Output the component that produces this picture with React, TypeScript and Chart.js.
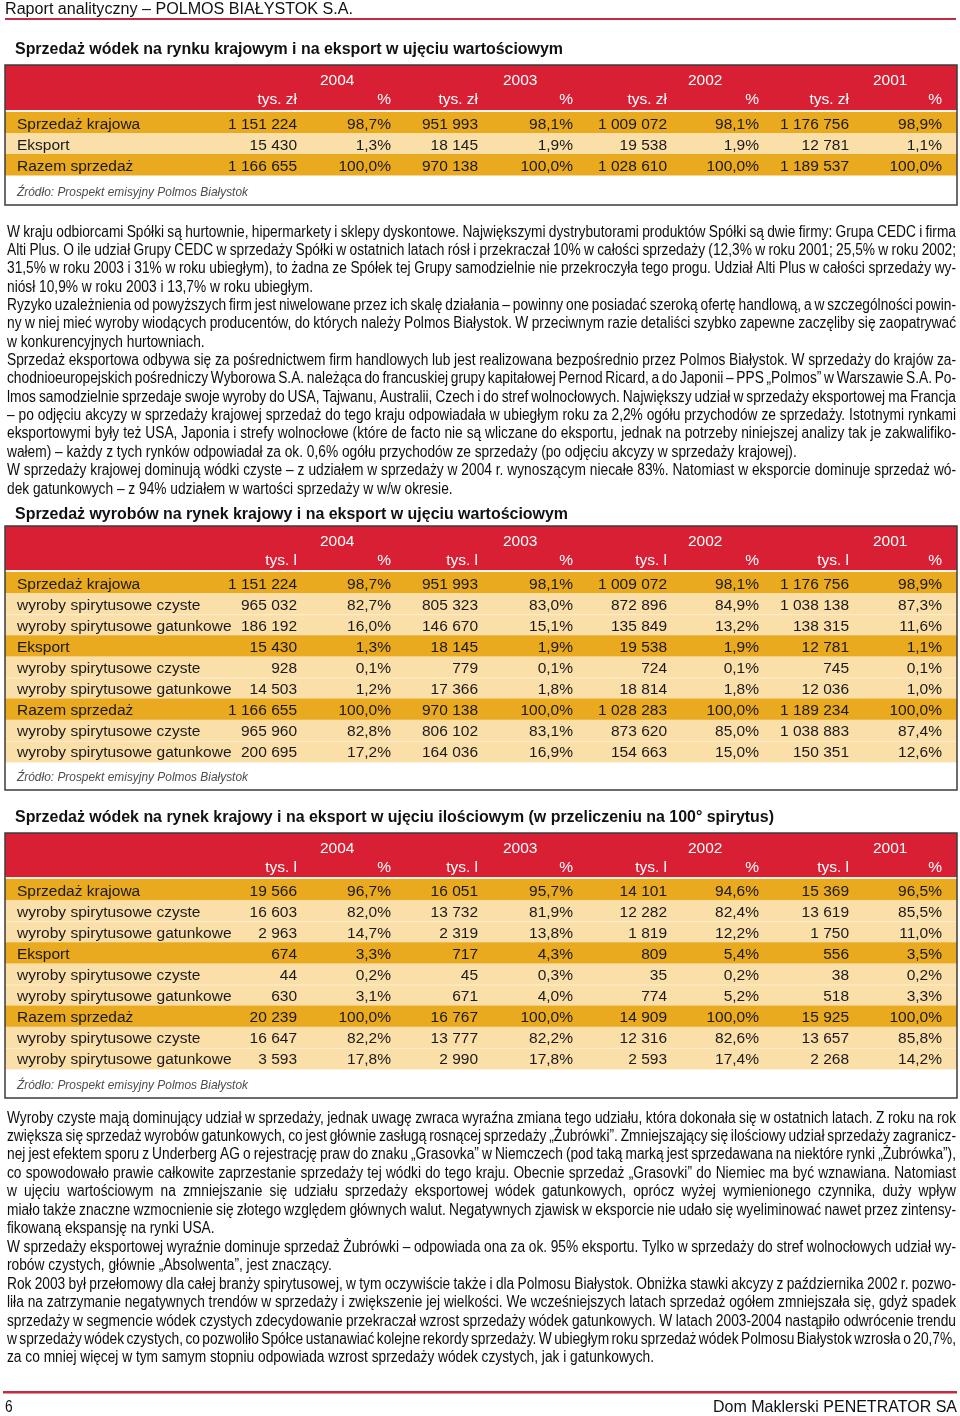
import React, { useEffect, useRef } from 'react';
import { Chart, registerables } from 'chart.js';

Chart.register(...registerables);

// ---------------- data ----------------
const pageHeader = 'Raport analityczny – POLMOS BIAŁYSTOK S.A.';
const footerLeft = '6';
const footerRight = 'Dom Maklerski PENETRATOR SA';
const sourceNote = 'Źródło: Prospekt emisyjny Polmos Białystok';

const years = ['2004', '2003', '2002', '2001'];

const title1 = 'Sprzedaż wódek na rynku krajowym i na eksport w ujęciu wartościowym';
const units1 = ['tys. zł', '%'];
const rows1 = ['Sprzedaż krajowa', 'Eksport', 'Razem sprzedaż'];
const dark1 = [true, false, true];
const amounts1 = [
  [1151224, 951993, 1009072, 1176756],
  [15430, 18145, 19538, 12781],
  [1166655, 970138, 1028610, 1189537],
];
const shares1 = [
  [98.7, 98.1, 98.1, 98.9],
  [1.3, 1.9, 1.9, 1.1],
  [100.0, 100.0, 100.0, 100.0],
];

const title2 = 'Sprzedaż wyrobów na rynek krajowy i na eksport w ujęciu wartościowym';
const units2 = ['tys. l', '%'];
const rows2 = [
  'Sprzedaż krajowa',
  'wyroby spirytusowe czyste',
  'wyroby spirytusowe gatunkowe',
  'Eksport',
  'wyroby spirytusowe czyste',
  'wyroby spirytusowe gatunkowe',
  'Razem sprzedaż',
  'wyroby spirytusowe czyste',
  'wyroby spirytusowe gatunkowe',
];
const dark2 = [true, false, false, true, false, false, true, false, false];
const amounts2 = [
  [1151224, 951993, 1009072, 1176756],
  [965032, 805323, 872896, 1038138],
  [186192, 146670, 135849, 138315],
  [15430, 18145, 19538, 12781],
  [928, 779, 724, 745],
  [14503, 17366, 18814, 12036],
  [1166655, 970138, 1028283, 1189234],
  [965960, 806102, 873620, 1038883],
  [200695, 164036, 154663, 150351],
];
const shares2 = [
  [98.7, 98.1, 98.1, 98.9],
  [82.7, 83.0, 84.9, 87.3],
  [16.0, 15.1, 13.2, 11.6],
  [1.3, 1.9, 1.9, 1.1],
  [0.1, 0.1, 0.1, 0.1],
  [1.2, 1.8, 1.8, 1.0],
  [100.0, 100.0, 100.0, 100.0],
  [82.8, 83.1, 85.0, 87.4],
  [17.2, 16.9, 15.0, 12.6],
];

const title3 = 'Sprzedaż wódek na rynek krajowy i na eksport w ujęciu ilościowym (w przeliczeniu na 100° spirytus)';
const units3 = ['tys. l', '%'];
const rows3 = rows2;
const dark3 = dark2;
const amounts3 = [
  [19566, 16051, 14101, 15369],
  [16603, 13732, 12282, 13619],
  [2963, 2319, 1819, 1750],
  [674, 717, 809, 556],
  [44, 45, 35, 38],
  [630, 671, 774, 518],
  [20239, 16767, 14909, 15925],
  [16647, 13777, 12316, 13657],
  [3593, 2990, 2593, 2268],
];
const shares3 = [
  [96.7, 95.7, 94.6, 96.5],
  [82.0, 81.9, 82.4, 85.5],
  [14.7, 13.8, 12.2, 11.0],
  [3.3, 4.3, 5.4, 3.5],
  [0.2, 0.3, 0.2, 0.2],
  [3.1, 4.0, 5.2, 3.3],
  [100.0, 100.0, 100.0, 100.0],
  [82.2, 82.2, 82.6, 85.8],
  [17.8, 17.8, 17.4, 14.2],
];

const bodyText1: string[][] = [
  [
    'W kraju odbiorcami Spółki są hurtownie, hipermarkety i sklepy dyskontowe. Największymi dystrybutorami produktów Spółki są dwie firmy: Grupa CEDC i firma',
    'Alti Plus. O ile udział Grupy CEDC w sprzedaży Spółki w ostatnich latach rósł i przekraczał 10% w całości sprzedaży (12,3% w roku 2001; 25,5% w roku 2002;',
    '31,5% w roku 2003 i 31% w roku ubiegłym), to żadna ze Spółek tej Grupy samodzielnie nie przekroczyła tego progu. Udział Alti Plus w całości sprzedaży wy-',
    'niósł 10,9% w roku 2003 i 13,7% w roku ubiegłym.',
  ],
  [
    'Ryzyko uzależnienia od powyższych firm jest niwelowane przez ich skalę działania – powinny one posiadać szeroką ofertę handlową, a w szczególności powin-',
    'ny w niej mieć wyroby wiodących producentów, do których należy Polmos Białystok. W przeciwnym razie detaliści szybko zapewne zaczęliby się zaopatrywać',
    'w konkurencyjnych hurtowniach.',
  ],
  [
    'Sprzedaż eksportowa odbywa się za pośrednictwem firm handlowych lub jest realizowana bezpośrednio przez Polmos Białystok. W sprzedaży do krajów za-',
    'chodnioeuropejskich pośredniczy Wyborowa S.A. należąca do francuskiej grupy kapitałowej Pernod Ricard, a do Japonii – PPS „Polmos” w Warszawie S.A. Po-',
    'lmos samodzielnie sprzedaje swoje wyroby do USA, Tajwanu, Australii, Czech i do stref wolnocłowych. Największy udział w sprzedaży eksportowej ma Francja',
    '– po odjęciu akcyzy w sprzedaży krajowej sprzedaż do tego kraju odpowiadała w ubiegłym roku za 2,2% ogółu przychodów ze sprzedaży. Istotnymi rynkami',
    'eksportowymi były też USA, Japonia i strefy wolnocłowe (które de facto nie są wliczane do eksportu, jednak na potrzeby niniejszej analizy tak je zakwalifiko-',
    'wałem) – każdy z tych rynków odpowiadał za ok. 0,6% ogółu przychodów ze sprzedaży (po odjęciu akcyzy w sprzedaży krajowej).',
  ],
  [
    'W sprzedaży krajowej dominują wódki czyste – z udziałem w sprzedaży w 2004 r. wynoszącym niecałe 83%. Natomiast w eksporcie dominuje sprzedaż wó-',
    'dek gatunkowych – z 94% udziałem w wartości sprzedaży w w/w okresie.',
  ],
];

const bodyText2: string[][] = [
  [
    'Wyroby czyste mają dominujący udział w sprzedaży, jednak uwagę zwraca wyraźna zmiana tego udziału, która dokonała się w ostatnich latach. Z roku na rok',
    'zwiększa się sprzedaż wyrobów gatunkowych, co jest głównie zasługą rosnącej sprzedaży „Żubrówki”. Zmniejszający się ilościowy udział sprzedaży zagranicz-',
    'nej jest efektem sporu z Underberg AG o rejestrację praw do znaku „Grasovka” w Niemczech (pod taką marką jest sprzedawana na niektóre rynki „Żubrówka”),',
    'co spowodowało prawie całkowite zaprzestanie sprzedaży tej wódki do tego kraju. Obecnie sprzedaż „Grasovki” do Niemiec ma być wznawiana. Natomiast',
    'w ujęciu wartościowym na zmniejszanie się udziału sprzedaży eksportowej wódek gatunkowych, oprócz wyżej wymienionego czynnika, duży wpływ',
    'miało także znaczne wzmocnienie się złotego względem głównych walut. Negatywnych zjawisk w eksporcie nie udało się wyeliminować nawet przez zintensy-',
    'fikowaną ekspansję na rynki USA.',
  ],
  [
    'W sprzedaży eksportowej wyraźnie dominuje sprzedaż Żubrówki – odpowiada ona za ok. 95% eksportu. Tylko w sprzedaży do stref wolnocłowych udział wy-',
    'robów czystych, głównie „Absolwenta”, jest znaczący.',
  ],
  [
    'Rok 2003 był przełomowy dla całej branży spirytusowej, w tym oczywiście także i dla Polmosu Białystok. Obniżka stawki akcyzy z października 2002 r. pozwo-',
    'liła na zatrzymanie negatywnych trendów w sprzedaży i zwiększenie jej wielkości. We wcześniejszych latach sprzedaż ogółem zmniejszała się, gdyż spadek',
    'sprzedaży w segmencie wódek czystych zdecydowanie przekraczał wzrost sprzedaży wódek gatunkowych. W latach 2003-2004 nastąpiło odwrócenie trendu',
    'w sprzedaży wódek czystych, co pozwoliło Spółce ustanawiać kolejne rekordy sprzedaży. W ubiegłym roku sprzedaż wódek Polmosu Białystok wzrosła o 20,7%,',
    'za co mniej więcej w tym samym stopniu odpowiada wzrost sprzedaży wódek czystych, jak i gatunkowych.',
  ],
];

// ---------------- styles / layout ----------------
const FAM = '"Liberation Sans", Arial, Helvetica, sans-serif';
const RED = '#d91f33';
const LINE_RED = '#c52a3f';
const DARK_ROW = '#e9aa20';
const LIGHT_ROW = '#fbdfa9';
const BORDER = '#3c3c3c';
const TEXT = '#1a1a1a';
const BODY_COLOR = '#0d0d0d';

const COL_RIGHT = [297, 391, 478, 573, 667, 759, 849, 942];
const YEAR_LEFT = [320, 503, 688, 873];

type TableCfg = {
  title: string;
  titleBase: number;
  titleWidth: number;
  top: number;
  rowsTop: number;
  rowH: number;
  bottom: number;
  units: string[];
  rows: string[];
  dark: boolean[];
  amounts: number[][];
  shares: number[][];
};

const tables: TableCfg[] = [
  { title: title1, titleBase: 54, titleWidth: 548, top: 65, rowsTop: 112, rowH: 21, bottom: 205, units: units1, rows: rows1, dark: dark1, amounts: amounts1, shares: shares1 },
  { title: title2, titleBase: 519, titleWidth: 553, top: 526, rowsTop: 572, rowH: 21.1, bottom: 790, units: units2, rows: rows2, dark: dark2, amounts: amounts2, shares: shares2 },
  { title: title3, titleBase: 822, titleWidth: 759, top: 833, rowsTop: 879, rowH: 21.1, bottom: 1098, units: units3, rows: rows3, dark: dark3, amounts: amounts3, shares: shares3 },
];

const fmtAmount = (n: number) => String(n).replace(/\B(?=(\d{3})+(?!\d))/g, ' ');
const fmtShare = (n: number) => n.toFixed(1).replace('.', ',') + '%';

function drawText(
  ctx: CanvasRenderingContext2D,
  s: string,
  x: number,
  y: number,
  font: string,
  color: string,
  align: CanvasTextAlign = 'left',
  width?: number,
  sx = 1
) {
  ctx.save();
  ctx.font = font;
  ctx.fillStyle = color;
  ctx.textAlign = align;
  ctx.textBaseline = 'alphabetic';
  const w = ctx.measureText(s).width;
  const scale = width ? width / w : sx;
  ctx.translate(x, y);
  ctx.scale(scale, 1);
  ctx.fillText(s, 0, 0);
  ctx.restore();
}

function drawLine(
  ctx: CanvasRenderingContext2D,
  line: string,
  x: number,
  y: number,
  width: number,
  sx: number,
  justify: boolean
) {
  ctx.save();
  ctx.textAlign = 'left';
  ctx.textBaseline = 'alphabetic';
  const words = line.split(' ');
  const ws = words.map((w) => ctx.measureText(w).width);
  const sum = ws.reduce((a, b) => a + b, 0);
  const space = ctx.measureText(' ').width;
  let scale = sx;
  let gap = space;
  if (justify && words.length > 1) {
    const minGap = space * 0.55;
    gap = (width / scale - sum) / (words.length - 1);
    if (gap < minGap) {
      gap = minGap;
      scale = width / (sum + minGap * (words.length - 1));
    }
  }
  ctx.translate(x, y);
  ctx.scale(scale, 1);
  let cx = 0;
  words.forEach((w, i) => {
    ctx.fillText(w, cx, 0);
    cx += ws[i] + gap;
  });
  ctx.restore();
}

function drawPage(chart: any) {
  const ctx: CanvasRenderingContext2D = chart.ctx;
  const xs = chart.scales.x;
  const ys = chart.scales.y;
  const X = (v: number) => xs.getPixelForValue(v);
  const Y = (v: number) => ys.getPixelForValue(v);

  ctx.save();
  ctx.fillStyle = '#ffffff';
  ctx.fillRect(X(0), Y(0), X(960) - X(0), Y(1416) - Y(0));

  const bodyFont = `16px ${FAM}`;
  const cellFont = `15.5px ${FAM}`;

  // calibrate condensed body width
  ctx.font = bodyFont;
  const calib = ctx.measureText(bodyText2[2][4]).width;
  const sxBody = 647 / calib;

  // page header
  drawText(ctx, pageHeader, X(5), Y(14), `16px ${FAM}`, '#111', 'left', 348);
  ctx.fillStyle = LINE_RED;
  ctx.fillRect(X(5), Y(18), X(956) - X(5), 2);

  // tables
  tables.forEach((t) => {
    drawText(ctx, t.title, X(15), Y(t.titleBase), `bold 16px ${FAM}`, '#111', 'left', t.titleWidth);
    const left = X(5);
    const right = X(957);
    // header
    ctx.fillStyle = RED;
    ctx.fillRect(left, Y(t.top), right - left, Y(t.rowsTop - 2) - Y(t.top));
    ctx.fillStyle = '#fff6e6';
    ctx.fillRect(left, Y(t.rowsTop - 2), right - left, 2);
    years.forEach((yr, i) => {
      drawText(ctx, yr, X(YEAR_LEFT[i]), Y(t.top + 20), cellFont, '#ffffff', 'left');
    });
    COL_RIGHT.forEach((cr, j) => {
      drawText(ctx, t.units[j % 2], X(cr), Y(t.top + 39), cellFont, '#ffffff', 'right');
    });
    // rows
    t.rows.forEach((label, r) => {
      const y0 = t.rowsTop + r * t.rowH;
      ctx.fillStyle = t.dark[r] ? DARK_ROW : LIGHT_ROW;
      ctx.fillRect(left, Y(y0), right - left, Y(y0 + t.rowH) - Y(y0) + 0.5);
      if (r > 0 && !t.dark[r] && !t.dark[r - 1]) {
        ctx.fillStyle = 'rgba(255,255,255,0.45)';
        ctx.fillRect(left, Y(y0), right - left, 1);
      }
      const base = Y(y0 + 16.5);
      drawText(ctx, label, X(17), base, cellFont, TEXT, 'left');
      for (let k = 0; k < 4; k++) {
        drawText(ctx, fmtAmount(t.amounts[r][k]), X(COL_RIGHT[k * 2]), base, cellFont, TEXT, 'right');
        drawText(ctx, fmtShare(t.shares[r][k]), X(COL_RIGHT[k * 2 + 1]), base, cellFont, TEXT, 'right');
      }
    });
    // source
    drawText(ctx, sourceNote, X(17), Y(t.bottom - 9), `italic 13px ${FAM}`, '#4d4d4d', 'left', 231);
    // border
    ctx.strokeStyle = BORDER;
    ctx.lineWidth = 1.5;
    ctx.strokeRect(left, Y(t.top), right - left, Y(t.bottom) - Y(t.top));
  });

  // body texts
  ctx.font = bodyFont;
  ctx.fillStyle = BODY_COLOR;
  const drawBlock = (paras: string[][], firstBase: number, lh: number) => {
    let i = 0;
    paras.forEach((p) => {
      p.forEach((line, k) => {
        drawLine(ctx, line, X(7), Y(firstBase + i * lh), X(956) - X(7), sxBody, k < p.length - 1);
        i++;
      });
    });
  };
  drawBlock(bodyText1, 236.5, 18.36);
  drawBlock(bodyText2, 1122.5, 18.46);

  // footer
  ctx.fillStyle = LINE_RED;
  ctx.fillRect(X(3), Y(1391), X(957) - X(3), 2.5);
  drawText(ctx, footerLeft, X(5), Y(1412), `16px ${FAM}`, '#111', 'left', undefined, sxBody);
  drawText(ctx, footerRight, X(957), Y(1412), `16.5px ${FAM}`, '#111', 'right', 244);

  ctx.restore();
}

const pagePlugin = {
  id: 'reportPage',
  afterDraw(chart: any) {
    drawPage(chart);
  },
};

export default function App() {
  const canvasRef = useRef<HTMLCanvasElement | null>(null);

  useEffect(() => {
    const canvas = canvasRef.current;
    if (!canvas) return;
    const chart = new Chart(canvas, {
      type: 'scatter',
      data: { datasets: [] },
      options: {
        responsive: false,
        animation: false,
        events: [],
        layout: { padding: 0 },
        plugins: { legend: { display: false }, tooltip: { enabled: false } },
        scales: {
          x: { type: 'linear', min: 0, max: 960, display: false },
          y: { type: 'linear', min: 0, max: 1416, reverse: true, display: false },
        },
      },
      plugins: [pagePlugin],
    } as any);
    return () => chart.destroy();
  }, []);

  return (
    <div style={{ position: 'absolute', left: 0, top: 0, width: 960, height: 1416, background: '#fff' }}>
      <canvas ref={canvasRef} width={960} height={1416} style={{ display: 'block', width: 960, height: 1416 }} />
    </div>
  );
}
